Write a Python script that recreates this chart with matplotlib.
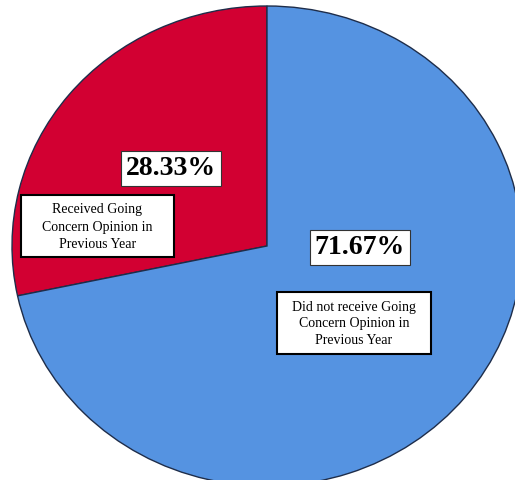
import matplotlib.pyplot as plt
from matplotlib.patches import Rectangle

# data
labels = ['Received Going\nConcern Opinion in\nPrevious Year',
          'Did not receive Going\nConcern Opinion in\nPrevious Year']
shares = [28.33, 71.67]
pct_text = ['28.33%', '71.67%']
colors = ['#D20032', '#5593E1']

W, H = 515, 481
fig = plt.figure(figsize=(W / 100, H / 100), dpi=100)
ax = fig.add_axes([0, 0, 1, 1])

wedges, _ = ax.pie(shares, colors=colors, startangle=90, counterclock=True,
                   wedgeprops=dict(edgecolor='#1E2D4A', linewidth=1.0))

# pie is a bit squashed in the original, so stretch via limits
cx, cy, rx, ry = 267, 247, 255, 240
ax.set_aspect('auto')
ax.set_xlim(-cx / rx, (W - cx) / rx)
ax.set_ylim(-(H - cy) / ry, cy / ry)
ax.axis('off')

serif = ['Liberation Serif', 'DejaVu Serif']

def put(px, py, s, **kw):
    fig.text(px / W, 1 - py / H, s, ha='center', va='center',
             family=serif, zorder=5, **kw)

def box(px, py, bw, bh):
    # label box in pixel units (wider padding left/right than top/bottom)
    fig.add_artist(Rectangle(((px - bw / 2) / W, 1 - (py + bh / 2) / H),
                             bw / W, bh / H, transform=fig.transFigure,
                             fc='white', ec='black', lw=1.5, zorder=4))

# percentage labels
put(171, 169, pct_text[0], fontsize=20, fontweight='bold',
    bbox=dict(boxstyle='square,pad=0.18', fc='white', ec='#333333', lw=0.8))
put(360, 248, pct_text[1], fontsize=20, fontweight='bold',
    bbox=dict(boxstyle='square,pad=0.18', fc='white', ec='#333333', lw=0.8))

# category labels
box(97.5, 227, 153, 62)
put(97.5, 227, labels[0], fontsize=10, linespacing=1.4)
box(354, 324, 154, 62)
put(354, 324, labels[1], fontsize=10, linespacing=1.4)

fig.savefig('out.png', dpi=100)
